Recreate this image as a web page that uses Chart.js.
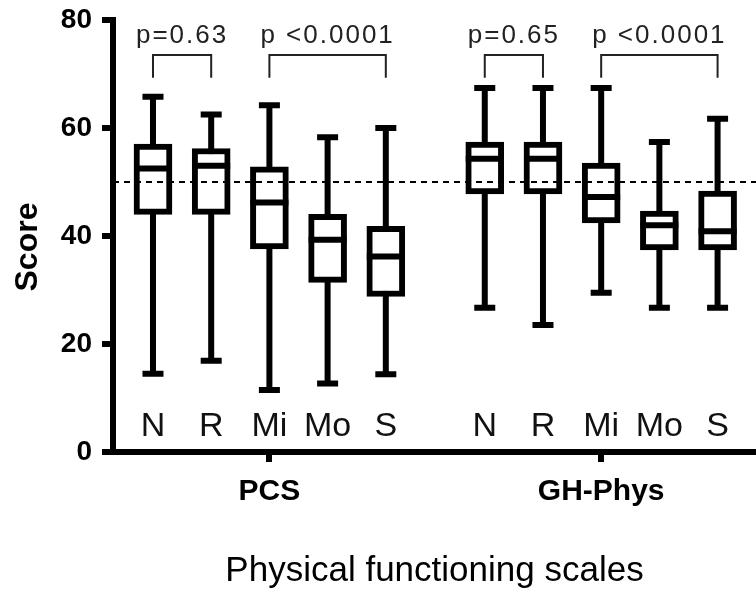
<!DOCTYPE html>
<html lang="en">
<head>
  <meta charset="UTF-8">
  <title>Physical functioning scales</title>
  <script src="https://cdn.jsdelivr.net/npm/chart.js"></script>
  <style>
    body {
      margin: 0;
      background: #fff;
    }
    #wrap {
      width: 756px;
      height: 592px;
    }
  </style>
</head>
<body>
  <div id="wrap"><canvas id="chart"></canvas></div>

  <script>
    const groups = ["PCS", "GH-Phys"];
    const severity = ["N", "R", "Mi", "Mo", "S"];

    // box plot summaries per severity group
    const pcsMin    = [14.5, 16.9, 11.5, 12.7, 14.4];
    const pcsQ1     = [44.0, 44.0, 37.6, 31.4, 28.8];
    const pcsMedian = [52.5, 53.0, 46.2, 39.3, 36.2];
    const pcsQ3     = [57.0, 56.2, 52.8, 44.0, 41.8];
    const pcsMax    = [65.8, 62.5, 64.2, 58.3, 60.0];

    const ghMin    = [26.7, 23.5, 29.5, 26.7, 26.7];
    const ghQ1     = [47.8, 47.8, 42.4, 37.4, 37.4];
    const ghMedian = [54.3, 54.3, 47.2, 42.0, 40.9];
    const ghQ3     = [57.4, 57.4, 53.5, 44.6, 48.3];
    const ghMax    = [67.4, 67.4, 67.4, 57.4, 61.7];

    const yTicks = [0, 20, 40, 60, 80];
    const referenceScore = 50;

    // comparisons: [group, first box, last box, label]
    const comparisons = [
      [0, 0, 1, "p=0.63"],
      [0, 2, 4, "p <0.0001"],
      [1, 0, 1, "p=0.65"],
      [1, 2, 4, "p <0.0001"]
    ];

    const groupStart = [1, 6.7];
    const pos = (g, i) => groupStart[g] + i;

    const stats = [
      [pcsMin, pcsQ1, pcsMedian, pcsQ3, pcsMax],
      [ghMin, ghQ1, ghMedian, ghQ3, ghMax]
    ];

    const boxes = [];
    stats.forEach((s, g) => {
      severity.forEach((name, i) => {
        boxes.push({ x: pos(g, i), y: [s[1][i], s[3][i]], min: s[0][i], med: s[2][i], max: s[4][i] });
      });
    });

    const FONT = "'Liberation Sans', Arial, sans-serif";
    Chart.defaults.font.family = FONT;
    Chart.defaults.color = "#000";

    const BOX_W = 38;
    const CAP_W = 21;
    const LINE = 6;

    const boxPlot = {
      id: "boxPlot",
      beforeDatasetsDraw(chart) {
        const { ctx, scales: { x, y } } = chart;
        ctx.save();
        ctx.strokeStyle = "#000";
        ctx.lineWidth = LINE;
        boxes.forEach(b => {
          const px = x.getPixelForValue(b.x);
          const yMin = y.getPixelForValue(b.min);
          const yMax = y.getPixelForValue(b.max);
          ctx.beginPath();
          ctx.moveTo(px, yMin);
          ctx.lineTo(px, yMax);
          ctx.moveTo(px - CAP_W / 2, yMin);
          ctx.lineTo(px + CAP_W / 2, yMin);
          ctx.moveTo(px - CAP_W / 2, yMax);
          ctx.lineTo(px + CAP_W / 2, yMax);
          ctx.stroke();
        });
        ctx.restore();
      },
      afterDatasetsDraw(chart) {
        const { ctx, chartArea, scales: { x, y } } = chart;
        ctx.save();

        // medians
        ctx.strokeStyle = "#000";
        ctx.lineWidth = LINE;
        boxes.forEach(b => {
          const px = x.getPixelForValue(b.x);
          const py = y.getPixelForValue(b.med);
          ctx.beginPath();
          ctx.moveTo(px - BOX_W / 2, py);
          ctx.lineTo(px + BOX_W / 2, py);
          ctx.stroke();
        });

        // population norm line
        const ry = y.getPixelForValue(referenceScore);
        ctx.lineWidth = 2;
        ctx.setLineDash([6, 5]);
        ctx.beginPath();
        ctx.moveTo(chartArea.left, ry);
        ctx.lineTo(chartArea.right, ry);
        ctx.stroke();
        ctx.setLineDash([]);

        // significance brackets
        ctx.lineWidth = 2;
        ctx.strokeStyle = "#222";
        ctx.fillStyle = "#222";
        ctx.font = "26px " + FONT;
        ctx.letterSpacing = "2px";
        ctx.textAlign = "center";
        ctx.textBaseline = "alphabetic";
        const top = y.getPixelForValue(73.5);
        const leg = y.getPixelForValue(69.3);
        const textY = y.getPixelForValue(75.7);
        comparisons.forEach(([g, a, b, label]) => {
          const x1 = x.getPixelForValue(pos(g, a));
          const x2 = x.getPixelForValue(pos(g, b));
          ctx.beginPath();
          ctx.moveTo(x1, leg);
          ctx.lineTo(x1, top);
          ctx.lineTo(x2, top);
          ctx.lineTo(x2, leg);
          ctx.stroke();
          ctx.fillText(label, (x1 + x2) / 2, textY);
        });

        // severity labels under each box
        ctx.letterSpacing = "0px";
        ctx.fillStyle = "#111";
        ctx.font = "34px " + FONT;
        const labelY = y.getPixelForValue(3);
        groups.forEach((gName, g) => {
          severity.forEach((name, i) => {
            ctx.fillText(name, x.getPixelForValue(pos(g, i)), labelY);
          });
        });

        // y axis title
        ctx.fillStyle = "#000";
        ctx.font = "bold 32px " + FONT;
        ctx.textBaseline = "middle";
        ctx.translate(28, 247);
        ctx.rotate(-Math.PI / 2);
        ctx.fillText("Score", 0, 0);
        ctx.restore();
      }
    };

    new Chart(document.getElementById("chart"), {
      type: "bar",
      data: {
        datasets: [{
          data: boxes,
          backgroundColor: "#fff",
          borderColor: "#000",
          borderWidth: LINE,
          borderSkipped: false,
          barThickness: BOX_W
        }]
      },
      options: {
        responsive: true,
        maintainAspectRatio: false,
        animation: false,
        layout: { padding: { top: 20, right: 0, bottom: 0, left: 0 } },
        plugins: {
          legend: { display: false },
          tooltip: { enabled: false }
        },
        scales: {
          x: {
            type: "linear",
            offset: false,
            min: 0.313,
            max: 11.36,
            afterFit: scale => { scale.height = 140; },
            afterBuildTicks: scale => {
              scale.ticks = groups.map((g, i) => ({ value: pos(i, 2) }));
            },
            border: { display: true, color: "#000", width: LINE },
            grid: {
              offset: false,
              drawOnChartArea: false,
              color: "#000",
              lineWidth: LINE,
              tickLength: 10
            },
            ticks: {
              padding: 12,
              font: { size: 30, weight: "bold" },
              callback: (value, index) => groups[index]
            },
            title: {
              display: true,
              text: "Physical functioning scales",
              font: { size: 35 },
              padding: { top: 0, bottom: 0 }
            }
          },
          y: {
            min: 0,
            max: 80,
            afterFit: scale => { scale.width = 113; },
            afterBuildTicks: scale => {
              scale.ticks = yTicks.map(v => ({ value: v }));
            },
            border: { display: true, color: "#000", width: LINE },
            grid: {
              drawOnChartArea: false,
              color: "#000",
              lineWidth: LINE,
              tickLength: 11
            },
            ticks: {
              padding: 10,
              font: { size: 28, weight: "bold", lineHeight: 0.6 }
            }
          }
        }
      },
      plugins: [boxPlot]
    });
  </script>
</body>
</html>
